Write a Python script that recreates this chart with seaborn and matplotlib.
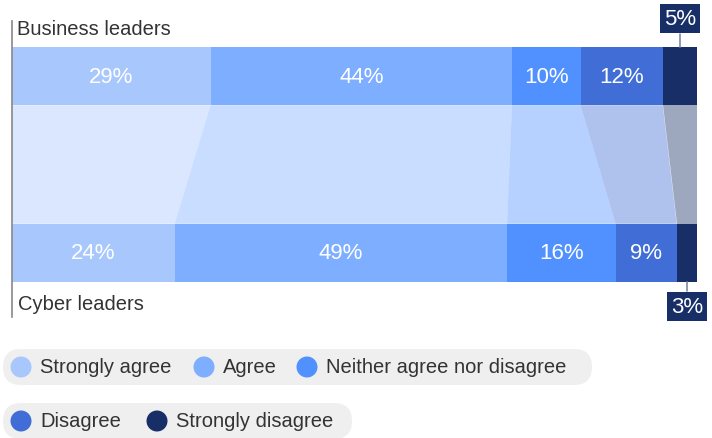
import numpy as np
import pandas as pd
import matplotlib
matplotlib.use("Agg")
import matplotlib.pyplot as plt
from matplotlib.patches import FancyBboxPatch, Circle, Polygon
import seaborn as sns

# data
groups = ["Business leaders", "Cyber leaders"]
categories = ["Strongly agree", "Agree", "Neither agree nor disagree", "Disagree", "Strongly disagree"]
business = [29, 44, 10, 12, 5]
cyber = [24, 49, 16, 9, 3]
colors = ["#A8C7FD", "#7DAEFF", "#5191FF", "#416ED6", "#172F66"]

sns.set_theme(style="white")
plt.rcParams["font.family"] = ["Liberation Sans", "DejaVu Sans"]

rows = []
for g, vals in zip(groups, [business, cyber]):
    tot = sum(vals)
    cum = 0
    for c, v in zip(categories, vals):
        share = v / tot * 100
        rows.append({"group": g, "category": c, "value": v, "left": cum, "right": cum + share})
        cum += share
df = pd.DataFrame(rows)

fig = plt.figure(figsize=(7.12, 4.39), dpi=100)
ax = fig.add_axes([12 / 712, 1 - 318 / 439, 685 / 712, 296 / 439])

bar_h = 0.33
# stacked bars: draw cumulative right edges, largest first
for c, col in reversed(list(zip(categories, colors))):
    sub = df[df["category"] == c]
    sns.barplot(data=sub, x="right", y="group", order=groups, color=col,
                saturation=1, width=bar_h, linewidth=0, orient="h", ax=ax)

# connector band between bars
for c, col in zip(categories, colors):
    b = df[(df["group"] == groups[0]) & (df["category"] == c)].iloc[0]
    cy = df[(df["group"] == groups[1]) & (df["category"] == c)].iloc[0]
    y0, y1 = bar_h / 2, 1 - bar_h / 2
    poly = Polygon([(b["left"], y0), (b["right"], y0), (cy["right"], y1), (cy["left"], y1)],
                   closed=True, facecolor=col, alpha=0.42, edgecolor="none")
    ax.add_patch(poly)

# value labels
for _, r in df.iterrows():
    yi = groups.index(r["group"])
    mid = (r["left"] + r["right"]) / 2
    if r["category"] == "Strongly disagree":
        if yi == 0:
            ax.plot([mid, mid], [-bar_h / 2, -0.237], color="#7d8aa6", lw=1.2, clip_on=False)
            ty = -0.325
        else:
            ax.plot([mid, mid], [1 + bar_h / 2, 1.215], color="#7d8aa6", lw=1.2, clip_on=False)
            ty = 1.302
        ax.text(mid, ty, f"{r['value']}%", color="white", fontsize=16, ha="center", va="center",
                bbox=dict(boxstyle="square,pad=0.18", fc=colors[4], ec="none"), clip_on=False)
    else:
        ax.text(mid, yi, f"{r['value']}%", color="white", fontsize=16, ha="center", va="center")

ax.text(0.7, -0.271, groups[0], fontsize=14.5, color="#333333", va="center", ha="left")
ax.text(0.9, 1.288, groups[1], fontsize=14.5, color="#333333", va="center", ha="left")

ax.set_xlim(0, 100)
ax.set_ylim(1.362, -0.311)
ax.set_xlabel("")
ax.set_ylabel("")
ax.set_xticks([])
ax.set_yticks([])
for s in ["top", "right", "bottom"]:
    ax.spines[s].set_visible(False)
ax.spines["left"].set_color("#888888")
ax.spines["left"].set_linewidth(1.2)

# legend drawn in pixel coordinates
lax = fig.add_axes([0, 0, 1, 1])
lax.set_xlim(0, 712)
lax.set_ylim(439, 0)
lax.axis("off")
lax.patch.set_alpha(0)

pills = [(3, 350, 589, 36), (3, 404, 349, 36)]
for x, y, w, h in pills:
    lax.add_patch(FancyBboxPatch((x, y), w, h, boxstyle="round,pad=0,rounding_size=18",
                                 fc="#EFEFEF", ec="none"))

legend_pos = [(21, 368), (204, 368), (307, 368), (21, 422), (157, 422)]
for (cx, cy), c, col in zip(legend_pos, categories, colors):
    lax.add_patch(Circle((cx, cy), 10.5, fc=col, ec="none"))
    lax.text(cx + 19, cy, c, fontsize=14.5, color="#333333", va="center", ha="left")

fig.savefig("out.png", dpi=100)
